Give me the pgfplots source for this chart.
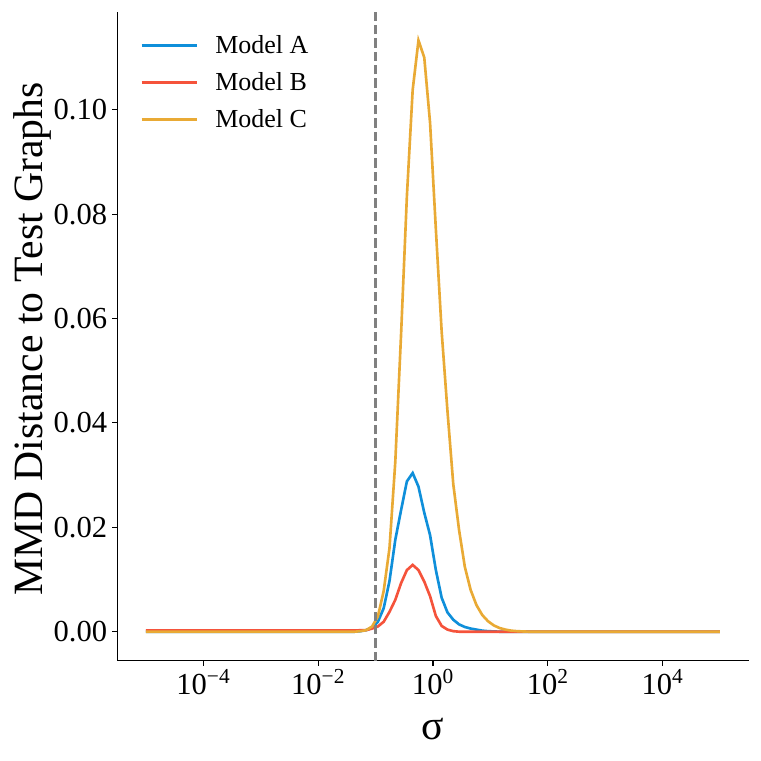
\documentclass[border=0pt]{standalone}
\usepackage{fontspec}
\setmainfont{Liberation Serif}
\usepackage{pgfplots}
\usepackage{pgfplotstable}
\pgfplotsset{compat=1.18}
\definecolor{cA}{HTML}{0F8FDA}
\definecolor{cB}{HTML}{F5533B}
\definecolor{cC}{HTML}{E9AA35}

\pgfplotstableread{
s        A        B        C
1e-5     0.0000   0.00025  0.0000
0.010723 0.0000   0.00025  0.0000
0.034304 0.0000   0.00025  0.0000
0.043288 0.0000   0.00025  0.0000
0.054623 0.0001   0.00027  0.0001
0.068926 0.0003   0.0003   0.0003
0.086975 0.0008   0.0006   0.0010
0.10975  0.0019   0.0010   0.0029
0.13849  0.0045   0.0019   0.0078
0.17475  0.0097   0.0038   0.0160
0.22051  0.0176   0.0061   0.0325
0.27826  0.0233   0.0093   0.0570
0.35112  0.0288   0.0118   0.0834
0.44306  0.0304   0.0128   0.1038
0.55908  0.0278   0.0118   0.1133
0.70548  0.0228   0.0096   0.1100
0.89022  0.0185   0.0068   0.0975
1.1233   0.0118   0.0030   0.0771
1.4175   0.0065   0.0011   0.0575
1.7886   0.0037   0.0004   0.0423
2.2570   0.0023   0.0001   0.0283
2.8480   0.0014   0.0000   0.0195
3.5938   0.0009   0.0000   0.0124
4.5349   0.0006   0.0000   0.0080
5.7224   0.0004   0.0000   0.0051
7.2208   0.0002   0.0000   0.0032
9.1116   0.0001   0.0000   0.0020
11.498   0.00005  0.0000   0.0012
14.508   0.0000   0.0000   0.0007
18.307   0.0000   0.0000   0.0004
23.101   0.0000   0.0000   0.0002
29.151   0.0000   0.0000   0.0001
36.784   0.0000   0.0000   0.00005
46.416   0.0000   0.0000   0.0000
117.68   0.0000   0.0000   0.0000
1e5      0.0000   0.0000   0.0000
}\datatable

\begin{document}
\begin{tikzpicture}
\useasboundingbox (-84.46pt,-72pt) rectangle (463.5pt,475.9pt);
\begin{axis}[
  at={(0,0)}, anchor=south west,
  scale only axis, width=454.6pt, height=467.5pt,
  xmode=log, log basis x=10,
  xmin=3.1623e-6, xmax=3.1623e5,
  ymin=-0.0056, ymax=0.1188,
  axis x line*=bottom, axis y line*=left,
  axis line style={line width=0.8pt, black, -},
  tick align=outside,
  major tick style={line width=0.8pt, black},
  major tick length=3.5pt,
  xminorticks=false, yminorticks=false,
  xtick={1e-4,1e-2,1,1e2,1e4},
  xticklabels={10\textsuperscript{−4}, 10\textsuperscript{−2}, 10\textsuperscript{0}, 10\textsuperscript{2}, 10\textsuperscript{4}},
  ytick={0,0.02,0.04,0.06,0.08,0.1},
  yticklabels={0.00,0.02,0.04,0.06,0.08,0.10},
  tick label style={font=\fontsize{22}{26}\selectfont},
  xticklabel style={anchor=north, inner sep=0pt, yshift=-2.5pt},
  yticklabel style={anchor=east, inner sep=0pt, xshift=-3.6pt},
  xlabel={σ},
  ylabel={MMD Distance to Test Graphs},
  label style={font=\fontsize{30}{36}\selectfont},
  xlabel style={at={(axis description cs:0.5,0)}, anchor=center, yshift=-49pt},
  ylabel style={at={(axis description cs:0,0.5)}, anchor=center, yshift=61pt, xshift=-2pt},
  legend style={draw=none, fill=none, at={(axis description cs:0.036,0.9638)}, anchor=north west,
    font=\fontsize{18.7}{22}\selectfont, inner sep=0pt, row sep=12.2pt, column sep=12.5pt,
    nodes={inner sep=0pt}},
  legend cell align=left,
  legend image code/.code={\draw[#1] (0pt,0pt) -- (39.6pt,0pt);},
]
\addplot[cA, line width=1.9pt] table[x=s, y=A] {\datatable};
\addlegendentry{Model A}
\addplot[cB, line width=1.9pt] table[x=s, y=B] {\datatable};
\addlegendentry{Model B}
\addplot[cC, line width=1.9pt] table[x=s, y=C] {\datatable};
\addlegendentry{Model C}
\addplot[black!50, line width=1.8pt, dash pattern=on 6.7pt off 2.9pt, forget plot] coordinates {(0.1,-0.0056) (0.1,0.1188)};
\end{axis}
\end{tikzpicture}
\end{document}
